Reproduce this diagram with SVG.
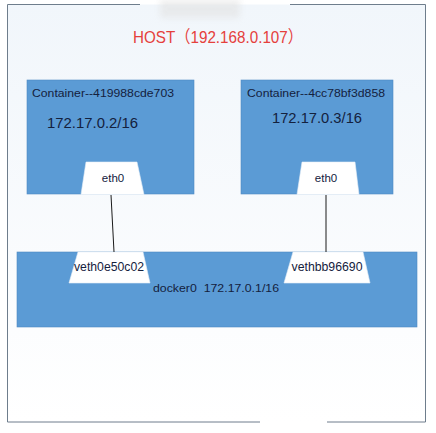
<svg xmlns="http://www.w3.org/2000/svg" width="436" height="433" viewBox="0 0 436 433">
  <defs>
    <linearGradient id="bg" x1="0" y1="0" x2="0" y2="1">
      <stop offset="0" stop-color="#f1f6fb"/>
      <stop offset="1" stop-color="#ffffff"/>
    </linearGradient>
    <filter id="blur" x="-20%" y="-50%" width="140%" height="200%">
      <feGaussianBlur stdDeviation="3"/>
    </filter>
  </defs>
  <style>
    .box { fill: #5b9bd5; stroke: #4f8ac4; stroke-width: 0.6; }
    .port { fill: #ffffff; stroke: #e6eef6; stroke-width: 0.6; }
    .t { font-family: "Liberation Sans", "DejaVu Sans", sans-serif; fill: #14213d; white-space: pre; }
    .link { stroke: #1a1a1a; stroke-width: 1; fill: none; }
  </style>
  <rect width="436" height="433" fill="#ffffff"/>
  <g id="host">
    <rect x="7.5" y="4.5" width="418" height="417.5" fill="url(#bg)" stroke="none"/>
    <path d="M140 4.5 H7.5 V422 H260 M327 422 H425.5 V4.5 H290" fill="none" stroke="#6e7d8c" stroke-width="1"/>
    <rect x="160" y="0" width="80" height="18" fill="#e2e2e2" opacity="0.6" filter="url(#blur)"/>
    <text x="133" y="43" font-size="17" fill="#e5403c" textLength="170" lengthAdjust="spacingAndGlyphs" font-family="Liberation Sans, Noto Sans CJK SC, sans-serif">HOST（192.168.0.107）</text>
  </g>
  <g id="container1">
    <rect class="box" x="27" y="80" width="167" height="114"/>
    <text class="t" x="32" y="97" font-size="11.5" textLength="142" lengthAdjust="spacingAndGlyphs">Container--419988cde703</text>
    <text class="t" x="47" y="128" font-size="14" textLength="91" lengthAdjust="spacingAndGlyphs">172.17.0.2/16</text>
  </g>
  <g id="eth0-1">
    <polygon class="port" points="86,162 137,162 144,194.5 81,194.5"/>
    <text class="t" x="113" y="182" font-size="11.5" text-anchor="middle">eth0</text>
  </g>
  <g id="container2">
    <rect class="box" x="241" y="80" width="152" height="114"/>
    <text class="t" x="247" y="97" font-size="11.5" textLength="138" lengthAdjust="spacingAndGlyphs">Container--4cc78bf3d858</text>
    <text class="t" x="272" y="123" font-size="14" textLength="90" lengthAdjust="spacingAndGlyphs">172.17.0.3/16</text>
  </g>
  <g id="eth0-2">
    <polygon class="port" points="302,162 355,162 359,194.5 297,194.5"/>
    <text class="t" x="326" y="182" font-size="11.5" text-anchor="middle">eth0</text>
  </g>
  <g id="docker0">
    <rect class="box" x="17" y="252" width="400" height="75"/>
    <text class="t" x="153" y="292" font-size="11" xml:space="preserve" textLength="126" lengthAdjust="spacingAndGlyphs">docker0  172.17.0.1/16</text>
  </g>
  <g id="veth0e50c02">
    <polygon class="port" points="78,252 143,252 150,283 69,283"/>
    <text class="t" x="109" y="271" font-size="12" text-anchor="middle" textLength="70" lengthAdjust="spacingAndGlyphs">veth0e50c02</text>
  </g>
  <g id="vethbb96690">
    <polygon class="port" points="293,252 363,252 370,283 284,283"/>
    <text class="t" x="327" y="271" font-size="12" text-anchor="middle" textLength="71" lengthAdjust="spacingAndGlyphs">vethbb96690</text>
  </g>
  <g id="connectors">
    <line class="link" x1="111" y1="195" x2="114" y2="252"/>
    <line class="link" x1="326" y1="195" x2="326" y2="252"/>
  </g>
</svg>
